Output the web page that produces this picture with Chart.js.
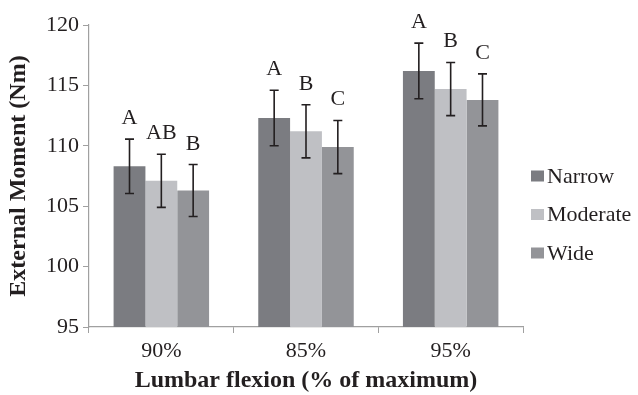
<!DOCTYPE html>
<html>
<head>
<meta charset="utf-8">
<script src="https://cdn.jsdelivr.net/npm/chart.js@4"></script>
<style>
  html, body { margin: 0; padding: 0; background: #fff; }
  #wrap { width: 638px; height: 395px; }
</style>
</head>
<body>
<div id="wrap"><canvas id="chart" width="638" height="395"></canvas></div>
<script>
// data
const categories = ['90%', '85%', '95%'];
const seriesNames = ['Narrow', 'Moderate', 'Wide'];
const narrow = [108.3, 112.3, 116.2];
const moderate = [107.1, 111.2, 114.7];
const wide = [106.3, 109.9, 113.8];
const narrowSD = [2.25, 2.3, 2.3];
const moderateSD = [2.2, 2.2, 2.2];
const wideSD = [2.15, 2.2, 2.15];
const narrowLetters = ['A', 'A', 'A'];
const moderateLetters = ['AB', 'B', 'B'];
const wideLetters = ['B', 'C', 'C'];

const serif = '"Liberation Serif"';
const colors = ['#7b7c81', '#bfc0c4', '#939498'];

// error bars + significance letters
const errorBars = {
    id: 'errorBars',
    afterDatasetsDraw(chart) {
        const ctx = chart.ctx;
        const y = chart.scales.y;
        ctx.save();
        chart.data.datasets.forEach((ds, i) => {
            let meta = chart.getDatasetMeta(i);
            meta.data.forEach((bar, j) => {
                let v = ds.data[j];
                let sd = ds.sd[j];
                let top = y.getPixelForValue(v + sd);
                let bot = y.getPixelForValue(v - sd);
                ctx.strokeStyle = '#231f20';
                ctx.lineWidth = 1.6;
                ctx.beginPath();
                ctx.moveTo(bar.x, top);
                ctx.lineTo(bar.x, bot);
                ctx.moveTo(bar.x - 4.5, top);
                ctx.lineTo(bar.x + 4.5, top);
                ctx.moveTo(bar.x - 4.5, bot);
                ctx.lineTo(bar.x + 4.5, bot);
                ctx.stroke();

                ctx.fillStyle = '#231f20';
                ctx.font = '22px ' + serif;
                ctx.textAlign = 'center';
                ctx.textBaseline = 'alphabetic';
                ctx.fillText(ds.letters[j], bar.x, top - 15);
            });
        });
        ctx.restore();
    }
};

// legend on the right
const sideLegend = {
    id: 'sideLegend',
    afterDraw(chart) {
        const ctx = chart.ctx;
        ctx.save();
        chart.data.datasets.forEach((ds, i) => {
            let cy = 176 + i * 38.5;
            ctx.fillStyle = ds.backgroundColor;
            ctx.fillRect(531, cy - 5.5, 13, 11);
            ctx.fillStyle = '#231f20';
            ctx.font = '22px ' + serif;
            ctx.textAlign = 'left';
            ctx.textBaseline = 'middle';
            ctx.fillText(ds.label, 547, cy + 1);
        });
        ctx.restore();
    }
};

new Chart(document.querySelector('#chart'), {
    type: 'bar',
    data: {
        labels: categories,
        datasets: [
            { label: seriesNames[0], data: narrow, sd: narrowSD, letters: narrowLetters, backgroundColor: colors[0] },
            { label: seriesNames[1], data: moderate, sd: moderateSD, letters: moderateLetters, backgroundColor: colors[1] },
            { label: seriesNames[2], data: wide, sd: wideSD, letters: wideLetters, backgroundColor: colors[2] }
        ]
    },
    options: {
        responsive: false,
        devicePixelRatio: 1,
        animation: false,
        layout: { padding: { left: 0, right: 115, top: 25, bottom: 0 } },
        datasets: {
            bar: { categoryPercentage: 0.66, barPercentage: 1.0, borderWidth: 0 }
        },
        plugins: {
            legend: { display: false },
            tooltip: { enabled: false }
        },
        scales: {
            x: {
                offset: true,
                grid: { offset: true, drawOnChartArea: false, tickLength: 6, color: '#a0a0a0' },
                border: { color: '#a0a0a0', width: 1.2 },
                ticks: { color: '#231f20', font: { family: serif, size: 22 }, padding: 5 },
                title: {
                    display: true,
                    text: 'Lumbar flexion (% of maximum)',
                    color: '#231f20',
                    font: { family: serif, size: 24, weight: 'bold' },
                    padding: { top: 0, bottom: 0 }
                },
                afterFit: (s) => { s.height = 68; }
            },
            y: {
                min: 95,
                max: 120,
                ticks: { stepSize: 5, color: '#231f20', font: { family: serif, size: 22 }, padding: 4 },
                grid: { drawOnChartArea: false, tickLength: 6, color: '#a0a0a0' },
                border: { color: '#a0a0a0', width: 1.2 },
                title: {
                    display: true,
                    text: 'External Moment (Nm)',
                    color: '#231f20',
                    font: { family: serif, size: 24, weight: 'bold' },
                    padding: { top: 4, bottom: 0 }
                },
                afterFit: (s) => { s.width = 89; }
            }
        }
    },
    plugins: [errorBars, sideLegend]
});
</script>
</body>
</html>
